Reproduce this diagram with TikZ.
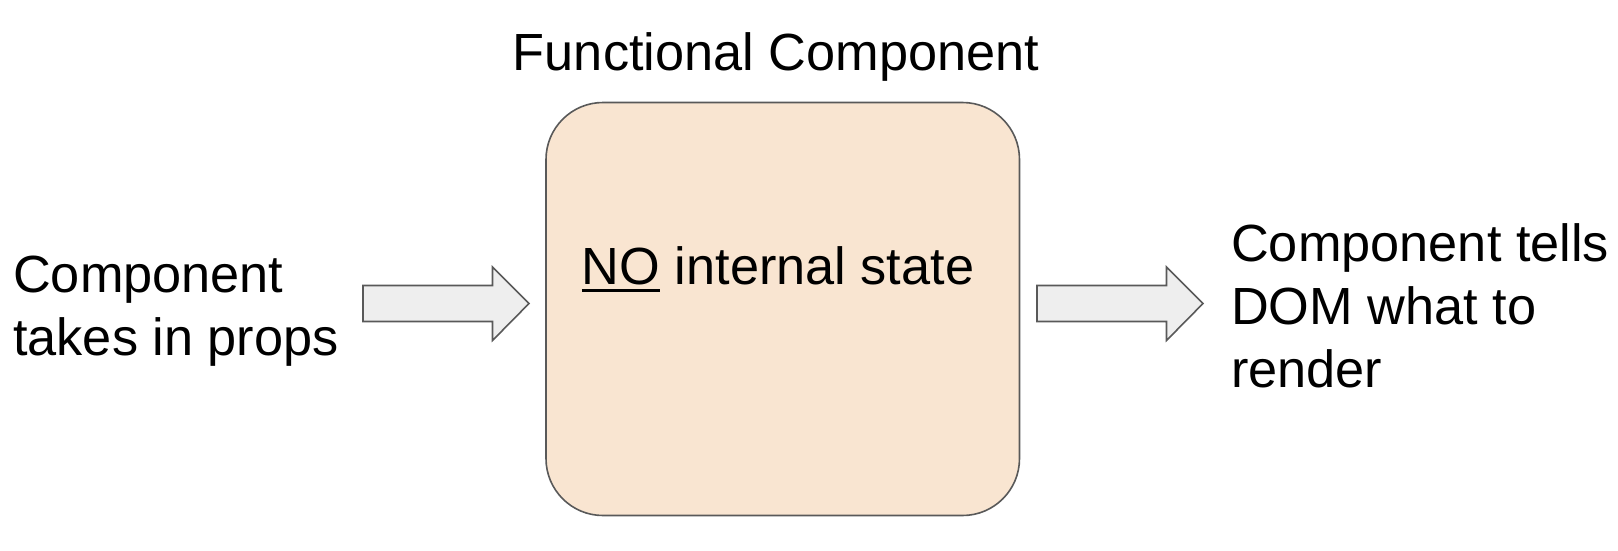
\documentclass[tikz,border=0pt]{standalone}
\usepackage{fontspec}
\setmainfont{Liberation Sans}
\newcommand{\thickul}[1]{\vtop{\hbox{#1}\kern 4.5pt\hrule height 3.4pt}}
\definecolor{boxfill}{HTML}{F9E5D1}
\definecolor{edge}{HTML}{595959}
\definecolor{arrowfill}{HTML}{EEEEEE}
\tikzset{
  txt/.style={anchor=base west, inner sep=0pt, font=\fontsize{52.3}{63}\selectfont},
  bigarrow/.style={draw=edge, fill=arrowfill, line width=1.6pt, line join=miter},
}
\begin{document}
\begin{tikzpicture}[x=1pt,y=-1pt]
\useasboundingbox (0,0) rectangle (1618,550);
% title
\node[anchor=base, inner sep=0pt, font=\fontsize{52.3}{63}\selectfont] (title) at (776,70) {Functional Component};
% main box
\draw[draw=edge, fill=boxfill, line width=1.6pt, rounded corners=57pt] (546,102.5) rectangle (1019.5,515.5);
\node[anchor=base, inner sep=0pt, font=\fontsize{52.3}{63}\selectfont] (inner) at (778,284) {\thickul{NO} internal state};
% left arrow
\draw[bigarrow] (363,285.5) -- (492.5,285.5) -- (492.5,267) -- (529,303.5) -- (492.5,340.5) -- (492.5,321.5) -- (363,321.5) -- cycle;
% right arrow
\draw[bigarrow] (1037,285.5) -- (1166.5,285.5) -- (1166.5,267) -- (1203,303.5) -- (1166.5,340.5) -- (1166.5,321.5) -- (1037,321.5) -- cycle;
% left text
\node[txt] (l1) at (13,292) {Component};
\node[txt] (l2) at (13,355) {takes in props};
% right text
\node[txt] (r1) at (1231,261) {Component tells};
\node[txt] (r2) at (1231,324) {DOM what to};
\node[txt] (r3) at (1231,387) {render};
\end{tikzpicture}
\end{document}
